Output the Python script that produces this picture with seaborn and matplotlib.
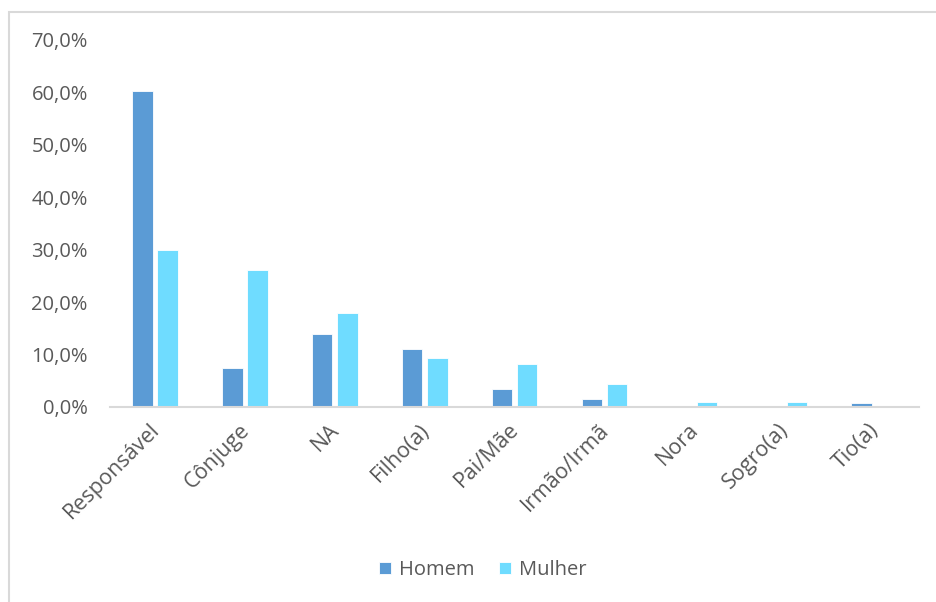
import matplotlib
matplotlib.use("Agg")
import matplotlib.pyplot as plt
import matplotlib.transforms as mtransforms
import seaborn as sns
import pandas as pd
from matplotlib.patches import Rectangle

categories = ["Responsável", "Cônjuge", "NA", "Filho(a)", "Pai/Mãe",
              "Irmão/Irmã", "Nora", "Sogro(a)", "Tio(a)"]
homem = [60.3, 7.4, 13.9, 11.1, 3.4, 1.5, 0.0, 0.0, 0.7]
mulher = [30.0, 26.1, 17.9, 9.3, 8.1, 4.4, 1.0, 1.0, 0.0]
series_names = ["Homem", "Mulher"]
yticks = [0, 10, 20, 30, 40, 50, 60, 70]

df = pd.DataFrame({
    "cat": categories * 2,
    "valor": homem + mulher,
    "sexo": [series_names[0]] * len(categories) + [series_names[1]] * len(categories),
})

sns.set_theme(style="white")
plt.rcParams["font.family"] = ["Open Sans", "DejaVu Sans"]
text_color = "#595959"
fs = 14.5

fig = plt.figure(figsize=(9.36, 6.02), dpi=100)
ax = fig.add_axes([0.1175, 0.324, 0.8645, 0.6096])

palette = {"Homem": "#5B9BD5", "Mulher": "#6FDCFF"}
sns.barplot(data=df, x="cat", y="valor", hue="sexo", palette=palette,
            width=0.56, gap=0.18, ax=ax, saturation=1,
            edgecolor="white", linewidth=0.6)

ax.set_ylim(0, 70)
ax.set_xlim(-0.5, len(categories) - 0.5)
ax.set_yticks(yticks)
ax.set_yticklabels([f"{v:.1f}%".replace(".", ",") for v in yticks],
                   color=text_color, fontsize=fs)
ax.tick_params(axis="y", length=0, pad=16)
ax.tick_params(axis="x", length=0, pad=9)
ax.set_xticks(range(len(categories)))
ax.set_xticklabels(categories, rotation=45, ha="right", rotation_mode="anchor",
                   color=text_color, fontsize=15.5)
offset = mtransforms.ScaledTranslation(-6 / 100, 0, fig.dpi_scale_trans)
for lab in ax.get_xticklabels():
    lab.set_transform(lab.get_transform() + offset)
ax.set_xlabel("")
ax.set_ylabel("")
for s in ["top", "right", "left"]:
    ax.spines[s].set_visible(False)
ax.spines["bottom"].set_color("#D9D9D9")
ax.spines["bottom"].set_linewidth(1.5)

leg = ax.legend(loc="center", bbox_to_anchor=(483 / 936, 1 - 570 / 602),
                bbox_transform=fig.transFigure, ncol=2, frameon=False,
                handlelength=0.6, handleheight=0.6, handletextpad=0.4,
                columnspacing=1.2, fontsize=fs)
for t in leg.get_texts():
    t.set_color(text_color)

fig.patches.append(Rectangle((9 / 936, -0.05), 1.0, 1 - 12 / 602 + 0.05,
                             transform=fig.transFigure, fill=False,
                             edgecolor="#D9D9D9", linewidth=1.5, zorder=-1))

fig.savefig("out.png", dpi=100, facecolor="white")
